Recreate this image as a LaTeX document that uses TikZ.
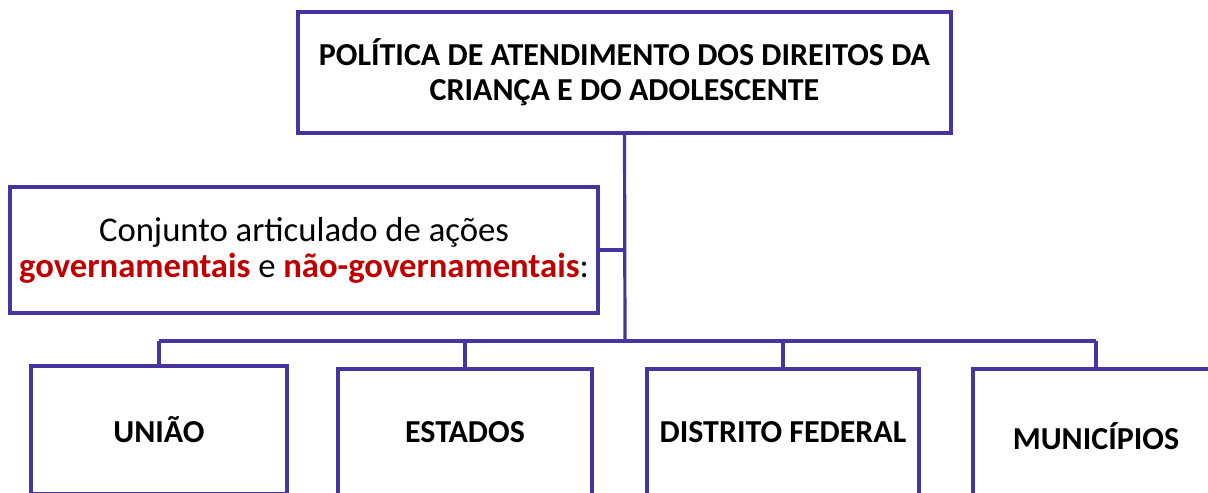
\documentclass[tikz,border=0pt]{standalone}
\usepackage{fontspec}
\setmainfont{Carlito}
\definecolor{linec}{RGB}{72,52,160}
\definecolor{redt}{RGB}{192,0,0}
\begin{document}
\begin{tikzpicture}[x=0.75pt,y=-0.75pt,
  box/.style={draw=linec,line width=2.4pt,fill=white,inner sep=0pt,align=center},
  conn/.style={draw=linec,line width=2.4pt},
  boldt/.style={font=\fontsize{24pt}{26.5pt}\selectfont\bfseries},
  regt/.style={font=\fontsize{26pt}{27pt}\selectfont}]
\useasboundingbox (0,0) rectangle (1208,493);
\node[box,boldt,minimum width=653*0.75pt,minimum height=121*0.75pt] (top) at (624.5,72.5)
  {POLÍTICA DE ATENDIMENTO DOS DIREITOS DA\\CRIANÇA E DO ADOLESCENTE};
\node[box,regt,minimum width=588*0.75pt,minimum height=126*0.75pt] (left) at (304,250)
  {Conjunto articulado de ações\\\textbf{\color{redt}governamentais} e \textbf{\color{redt}não-governamentais}:};
\node[box,boldt,minimum width=256*0.75pt,minimum height=128*0.75pt] (uniao) at (159,430) {UNIÃO};
\node[box,boldt,minimum width=254*0.75pt,minimum height=126*0.75pt] (est) at (465,432) {ESTADOS};
\node[box,boldt,minimum width=272*0.75pt,minimum height=126*0.75pt] (df) at (783,432) {DISTRITO FEDERAL};
\node[box,boldt,minimum width=246*0.75pt,minimum height=134*0.75pt] (mun) at (1096,436) {MUNICÍPIOS};
\coordinate (bus) at (625,341);
\draw[conn] (top.south) -- (bus);
\draw[conn] (left.east) -- (left.east -| bus);
\draw[conn] (uniao.north |- bus) -- (mun.north |- bus);
\draw[conn] (uniao.north) -- (uniao.north |- bus);
\draw[conn] (est.north) -- (est.north |- bus);
\draw[conn] (df.north) -- (df.north |- bus);
\draw[conn] (mun.north) -- (mun.north |- bus);
\end{tikzpicture}
\end{document}
